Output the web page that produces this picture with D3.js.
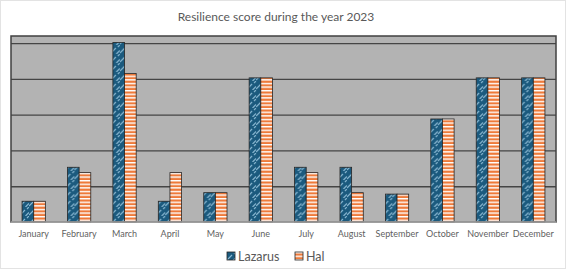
<!DOCTYPE html>
<html>
<head>
<meta charset="utf-8">
<script src="https://cdn.jsdelivr.net/npm/d3@7"></script>
<style>
  body { margin: 0; background: #fff; }
  svg { display: block; font-family: Lato, "Open Sans", sans-serif; }
</style>
</head>
<body>
<div id="chart"></div>
<script>
// chart data
const months = ['January', 'February', 'March', 'April', 'May', 'June', 'July',
  'August', 'September', 'October', 'November', 'December'];
const seriesNames = ['Lazarus', 'Hal'];
const lazarus = [0.58, 1.53, 5.02, 0.58, 0.82, 4.03, 1.53, 1.53, 0.78, 2.88, 4.03, 4.03];
const hal = [0.58, 1.38, 4.15, 1.38, 0.82, 4.03, 1.38, 0.82, 0.78, 2.88, 4.03, 4.03];
const yTicks = [1, 2, 3, 4, 5];

const W = 568, H = 270;
const margin = { top: 36, right: 12, bottom: 48, left: 11 };
const width = 556 - margin.left;
const height = 222 - margin.top;

const svg = d3.select('#chart').append('svg')
  .attr('width', W)
  .attr('height', H);

// outer chart border
svg.append('rect')
  .attr('x', 0.5).attr('y', 0.5)
  .attr('width', 565).attr('height', 268)
  .attr('fill', '#fff')
  .attr('stroke', '#e3e3e3');

// fill patterns
const defs = svg.append('defs');
const pLaz = defs.append('pattern')
  .attr('id', 'patLaz')
  .attr('patternUnits', 'userSpaceOnUse')
  .attr('width', 9).attr('height', 9);
pLaz.append('rect').attr('width', 9).attr('height', 9).attr('fill', '#1b5a7e');
pLaz.append('path')
  .attr('d', 'M0,8 L5,3 M5.5,9 L9,5.5 M7,2 L9,0')
  .attr('stroke', '#8ab8d2')
  .attr('stroke-width', 1.2);

const pHal = defs.append('pattern')
  .attr('id', 'patHal')
  .attr('patternUnits', 'userSpaceOnUse')
  .attr('width', 4).attr('height', 3.6);
pHal.append('rect').attr('width', 4).attr('height', 3.6).attr('fill', '#ee7a3a');
pHal.append('rect').attr('y', 0).attr('width', 4).attr('height', 1.4).attr('fill', '#fff');

const fills = ['url(#patLaz)', 'url(#patHal)'];

const g = svg.append('g')
  .attr('transform', `translate(${margin.left},${margin.top})`);

// scales
const x = d3.scaleBand().domain(months).range([0, width]);
const x1 = d3.scaleBand().domain(seriesNames).range([0, x.bandwidth()]).paddingOuter(0.95);
const y = d3.scaleLinear().domain([0, 5.2]).range([height, 0]);

// plot background
g.append('rect')
  .attr('width', width).attr('height', height)
  .attr('fill', '#b3b3b3');

// gridlines
g.append('g')
  .call(d3.axisLeft(y).tickValues(yTicks).tickSize(-width).tickFormat(''))
  .call(s => s.select('.domain').remove())
  .selectAll('line')
  .attr('stroke', '#454545')
  .attr('stroke-width', 1.3);

// bars
const data = months.map((m, i) => ({ month: m, values: [lazarus[i], hal[i]] }));
const groups = g.selectAll('.grp')
  .data(data)
  .enter().append('g')
  .attr('transform', d => `translate(${x(d.month)},0)`);

groups.selectAll('rect')
  .data(d => d.values.map((v, j) => ({ key: seriesNames[j], value: v, j })))
  .enter().append('rect')
  .attr('x', d => x1(d.key))
  .attr('y', d => y(d.value))
  .attr('width', x1.bandwidth())
  .attr('height', d => height - y(d.value))
  .attr('fill', d => fills[d.j])
  .attr('stroke', '#262626')
  .attr('stroke-width', 0.8);

// plot frame
g.append('rect')
  .attr('width', width).attr('height', height)
  .attr('fill', 'none')
  .attr('stroke', '#404040')
  .attr('stroke-width', 1.5);

// baseline
g.append('line')
  .attr('x1', 0).attr('x2', width)
  .attr('y1', height).attr('y2', height)
  .attr('stroke', '#d0d0d0');

// x axis labels
g.append('g')
  .attr('transform', `translate(0,${height})`)
  .call(d3.axisBottom(x).tickSize(0).tickPadding(9))
  .call(s => s.select('.domain').remove())
  .selectAll('text')
  .style('font-family', 'Lato, sans-serif')
  .style('font-size', '9px')
  .style('fill', '#5f5f5f');

// title
svg.append('text')
  .attr('x', 276).attr('y', 21)
  .attr('text-anchor', 'middle')
  .style('font-size', '12px')
  .style('fill', '#595959')
  .text('Resilience score during the year 2023');

// legend
const legend = svg.append('g').attr('transform', 'translate(227,252)');
const legX = [0, 68];
seriesNames.forEach((name, i) => {
  legend.append('rect')
    .attr('x', legX[i]).attr('y', 0)
    .attr('width', 8).attr('height', 8)
    .attr('fill', fills[i])
    .attr('stroke', '#262626')
    .attr('stroke-width', 0.8);
  legend.append('text')
    .attr('x', legX[i] + 11).attr('y', 9)
    .style('font-size', '12.5px')
    .style('fill', '#595959')
    .text(name);
});
</script>
</body>
</html>
